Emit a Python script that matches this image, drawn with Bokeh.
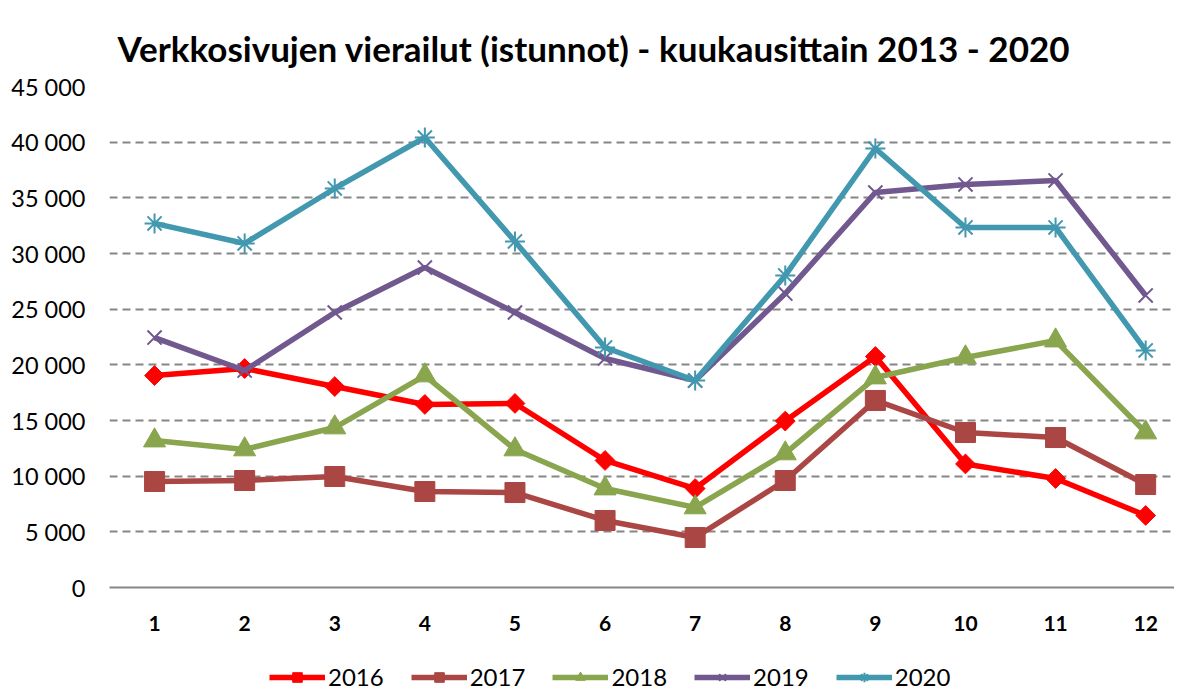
import numpy as np
from bokeh.plotting import figure
from bokeh.layouts import column
from bokeh.models import FixedTicker, Legend, LegendItem, Range1d
from bokeh.embed import file_html
from bokeh.resources import INLINE

months = [1, 2, 3, 4, 5, 6, 7, 8, 9, 10, 11, 12]
x_labels = [str(m) for m in months]
y_ticks = [0, 5000, 10000, 15000, 20000, 25000, 30000, 35000, 40000, 45000]
y_labels = ["0", "5 000", "10 000", "15 000", "20 000", "25 000", "30 000", "35 000", "40 000", "45 000"]

v2016 = [19040, 19670, 18050, 16440, 16530, 11410, 8890, 14950, 20750, 11100, 9790, 6470]
v2017 = [9520, 9610, 9970, 8620, 8530, 6020, 4490, 9610, 16800, 13920, 13470, 9250]
v2018 = [13200, 12400, 14370, 19040, 12400, 8890, 7190, 12040, 18860, 20660, 22180, 13920]
v2019 = [22450, 19490, 24700, 28740, 24700, 20570, 18590, 26400, 35480, 36200, 36560, 26230]
v2020 = [32700, 30900, 35840, 40420, 31080, 21560, 18590, 28030, 39430, 32340, 32340, 21290]

series_names = ["2016", "2017", "2018", "2019", "2020"]
series_values = [v2016, v2017, v2018, v2019, v2020]
colors = ["#FF0000", "#AA4643", "#89A54E", "#71588F", "#4198AF"]

FONT = "Lato"

p = figure(width=1174, height=650, output_backend="svg", toolbar_location=None,
           x_range=Range1d(0.5, 12.32), y_range=Range1d(0, 45000),
           min_border_left=109, min_border_right=0, min_border_top=86,
           min_border_bottom=63)
p.outline_line_color = None
p.background_fill_color = "white"

p.title.text = "Verkkosivujen vierailut (istunnot) - kuukausittain 2013 - 2020"
p.title.text_font = FONT
p.title.text_font_size = "35px"
p.title.text_font_style = "bold"
p.title.align = "left"
p.title.vertical_align = "bottom"
p.title.offset = 8
p.title.standoff = 36
p.title.text_color = "black"

# grid
p.xgrid.grid_line_color = None
p.ygrid.ticker = FixedTicker(ticks=y_ticks)
p.ygrid.grid_line_color = "#868686"
p.ygrid.grid_line_width = 2
p.ygrid.grid_line_dash = "8 5"

# axes
p.yaxis.ticker = FixedTicker(ticks=y_ticks)
p.yaxis.major_label_overrides = {t: l for t, l in zip(y_ticks, y_labels)}
p.yaxis.axis_line_color = None
p.yaxis.major_tick_line_color = None
p.yaxis.minor_tick_line_color = None
p.yaxis.major_label_text_font = FONT
p.yaxis.major_label_text_font_size = "23.5px"
p.yaxis.major_label_text_color = "black"
p.yaxis.major_label_standoff = 18

p.xaxis.ticker = FixedTicker(ticks=months)
p.xaxis.major_label_overrides = {m: l for m, l in zip(months, x_labels)}
p.xaxis.axis_line_color = "#868686"
p.xaxis.axis_line_width = 2
p.xaxis.major_tick_line_color = None
p.xaxis.minor_tick_line_color = None
p.xaxis.major_label_text_font = FONT
p.xaxis.major_label_text_font_size = "21px"
p.xaxis.major_label_text_font_style = "bold"
p.xaxis.major_label_text_color = "black"
p.xaxis.major_label_standoff = 22

markers = [
    dict(marker="square", size=14, angle=np.pi / 4, line_width=1),
    dict(marker="square", size=20, line_width=1),
    dict(marker="triangle", size=22, line_width=1),
    dict(marker="x", size=20, line_width=2),
    dict(marker="asterisk", size=20, line_width=2),
]

# legend strip below the chart (its glyphs fall outside its own ranges)
lg = figure(width=1174, height=39, output_backend="svg", toolbar_location=None,
            x_axis_type=None, y_axis_type=None, x_range=Range1d(-10, -9), y_range=Range1d(-10, -9),
            min_border_left=0, min_border_right=0, min_border_top=0, min_border_bottom=0)
lg.outline_line_color = None
lg.xgrid.grid_line_color = None
lg.ygrid.grid_line_color = None

items = []
for name, vals, col, mk in zip(series_names, series_values, colors, markers):
    p.line(months, vals, line_color=col, line_width=5.5)
    p.scatter(months, vals, fill_color=col, line_color=col, **mk)
    lln = lg.line(months, vals, line_color=col, line_width=5.5)
    lsc = lg.scatter(months, vals, fill_color=col, line_color=col, **mk)
    items.append(LegendItem(label=name, renderers=[lln, lsc]))

legend = Legend(items=items, orientation="horizontal", location=(160, -2),
                label_text_font=FONT, label_text_font_size="24px",
                label_text_color="black", glyph_width=56, glyph_height=24,
                spacing=27, label_standoff=3, border_line_color=None,
                background_fill_alpha=0, margin=0, padding=0)
lg.add_layout(legend)

layout = column(p, lg, spacing=0)
open("out.html", "w").write(file_html(layout, INLINE))
